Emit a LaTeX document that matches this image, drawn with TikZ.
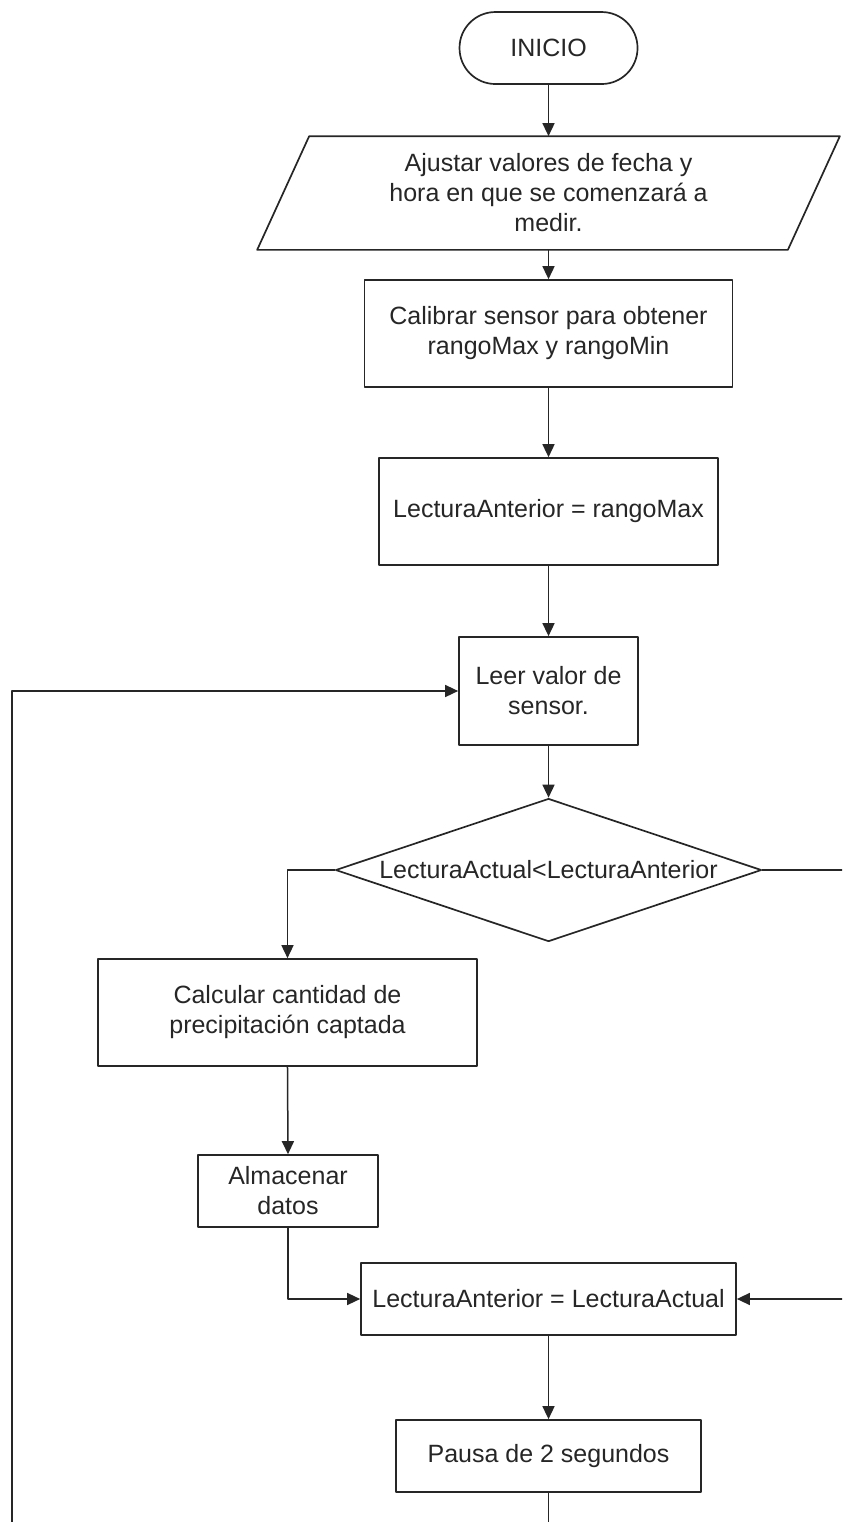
\documentclass[tikz,border=0pt]{standalone}
\usepackage{fontspec}
\setmainfont{Liberation Sans}
\usetikzlibrary{arrows.meta,shapes.geometric}

\begin{document}
\begin{tikzpicture}[join=round,
        caja/.style={draw=black!85,line width=0.85pt,text=black!85,align=center,inner sep=0pt,
                font=\fontsize{12.5}{15}\selectfont},
        flecha/.style={draw=black!85,line width=0.75pt,-{Triangle[length=6.5pt,width=6pt]}}]
        \useasboundingbox (0,0) rectangle (14.797,-26.746);
        \clip (0,0) rectangle (14.797,-26.746);
        \node[caja,rounded corners=.63cm,minimum width=3.128cm,minimum height=1.265cm] (inicio) at (9.639,-.844) {INICIO};
        \node[caja,draw=none,minimum width=9.296cm,minimum height=1.968cm] (ajustar) at (9.639,-3.392)
                {Ajustar valores de fecha y\\hora en que se comenzará a\\medir.};
        \draw[draw=black!85,line width=0.85pt]([xshift=.457cm]ajustar.north west)--([xshift=.457cm]ajustar.north east)
                --([xshift=-.457cm]ajustar.south east)--([xshift=-.457cm]ajustar.south west)--cycle;
        \node[caja,minimum width=6.467cm,minimum height=1.88cm] (calibrar) at (9.639,-5.861)
                {Calibrar sensor para obtener\\rangoMax y rangoMin};
        \node[caja,minimum width=5.957cm,minimum height=1.88cm] (anterior) at (9.639,-8.989) {LecturaAnterior = rangoMax};
        \node[caja,minimum width=3.146cm,minimum height=1.898cm] (leer) at (9.639,-12.143) {Leer valor de\\sensor.};
        \node[caja,diamond,aspect=2.98,minimum width=7.486cm,minimum height=2.513cm] (decision) at (9.639,-15.289)
                {LecturaActual<LecturaAnterior};
        \node[caja,minimum width=6.66cm,minimum height=1.88cm] (calcular) at (5.052,-17.793)
                {Calcular cantidad de\\precipitación captada};
        \node[caja,minimum width=3.163cm,minimum height=1.265cm] (almacenar) at (5.061,-20.93) {Almacenar\\datos};
        \node[caja,minimum width=6.59cm,minimum height=1.265cm] (actual) at (9.639,-22.827) {LecturaAnterior = LecturaActual};
        \node[caja,minimum width=5.36cm,minimum height=1.265cm] (pausa) at (9.639,-25.586) {Pausa de 2 segundos};
        % puntos fuera del recorte
        \coordinate (derecha) at (15.3,0);
        \coordinate (retorno) at (.211,-27.3);
        \draw[flecha] (inicio.south)--(ajustar.north);
        \draw[flecha] (ajustar.south)--(calibrar.north);
        \draw[flecha] (calibrar.south)--(anterior.north);
        \draw[flecha] (anterior.south)--(leer.north);
        \draw[flecha] (leer.south)--(decision.north);
        \draw[flecha] (decision.west)-|(calcular.north);
        \draw[flecha] (calcular.south)--(almacenar.north);
        \draw[flecha] (almacenar.south)|-(actual.west);
        \draw[flecha] (decision.east)--(decision.east-|derecha)--(actual.east-|derecha)--(actual.east);
        \draw[flecha] (actual.south)--(pausa.north);
        \draw[flecha] (pausa.south)|-(retorno)|-(leer.west);
\end{tikzpicture}
\end{document}
